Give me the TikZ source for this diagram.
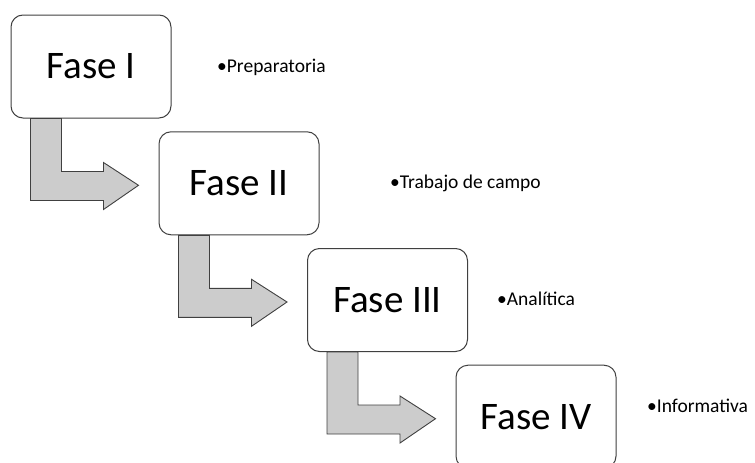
\documentclass[tikz,border=0pt]{standalone}
\usepackage{fontspec}
\setmainfont{Carlito}
\usetikzlibrary{calc}
\definecolor{edge700}{HTML}{404040}
\definecolor{grey250}{HTML}{CCCCCC}
\newcommand{\bendarrow}[2]{%
  \path[bendarr] ($(#1.south west)+(20,0)$) -- ++(31,0) -- ++(0,-53)
    -- ++(42,0) -- ++(0,9) -- ($(#2.west)+(-20,-2)$)
    -- ($(#1.south west)+(93,-91)$) -- ++(0,9) -- ++(-73,0) -- cycle;}
\tikzset{
  fase/.style   ={draw=edge700, line width=1pt, fill=white,
                  rounded corners=12pt, minimum width=160pt,
                  minimum height=103pt, inner sep=0pt,
                  font=\fontsize{39}{39}\selectfont},
  bendarr/.style={draw=edge700, line width=0.9pt, fill=grey250,
                  line join=miter},
  etiq/.style   ={anchor=base west, inner sep=0pt,
                  font=\fontsize{19.5}{20}\selectfont}
}
\begin{document}
\begin{tikzpicture}[x=1pt,y=1pt]
\path[use as bounding box, clip] (0,0) rectangle (755,-463);
\node[fase] (f1) at (91,-66.5)    {Fase I};
\node[fase] (f2) at (239,-183.3)  {Fase II};
\node[fase] (f3) at (387.5,-300)  {Fase III};
\node[fase] (f4) at (536,-416.7)  {Fase IV};

\bendarrow{f1}{f2}
\bendarrow{f2}{f3}
\bendarrow{f3}{f4}

% descripciones a la derecha de cada fase
\node[etiq] (prep)  at (217,-72)  {•Preparatoria};
\node[etiq] (campo) at (390,-188) {•Trabajo de campo};
\node[etiq] (anal)  at (497,-305) {•Analítica};
\node[etiq] (info)  at (647,-412) {•Informativa};
\end{tikzpicture}
\end{document}
